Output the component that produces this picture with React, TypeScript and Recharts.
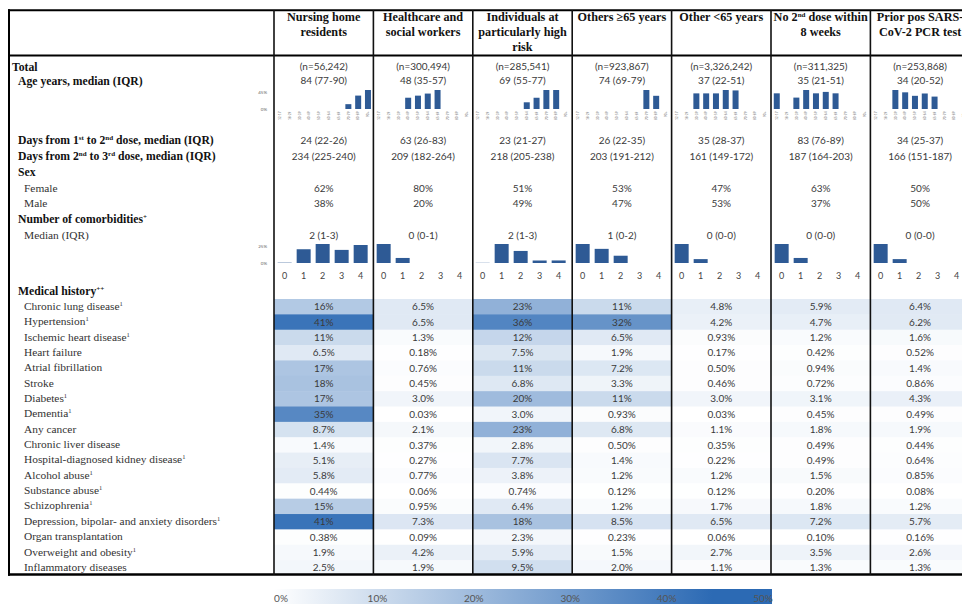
import React from "react";
import { BarChart, Bar, XAxis, YAxis, ScatterChart, Scatter } from "recharts";

const SERIF = "'Liberation Serif', 'DejaVu Serif', serif";
const SANS = "Lato, 'Open Sans', sans-serif";
const BAR_FILL = "#2e5a95";
const BLUE = [44, 106, 180];
const HEAT_MAX = 44;

const GROUPS = [
  ["Nursing home", "residents"],
  ["Healthcare and", "social workers"],
  ["Individuals at", "particularly high", "risk"],
  ["Others ≥65 years"],
  ["Other <65 years"],
  ["No 2{nd} dose within", "8 weeks"],
  ["Prior pos SARS-", "CoV-2 PCR test"],
];

const TOTALS = ["(n=56,242)", "(n=300,494)", "(n=285,541)", "(n=923,867)", "(n=3,326,242)", "(n=311,325)", "(n=253,868)"];
const AGE_MEDIAN = ["84 (77-90)", "48 (35-57)", "69 (55-77)", "74 (69-79)", "37 (22-51)", "35 (21-51)", "34 (20-52)"];
const DAYS_1_2 = ["24 (22-26)", "63 (26-83)", "23 (21-27)", "26 (22-35)", "35 (28-37)", "83 (76-89)", "34 (25-37)"];
const DAYS_2_3 = ["234 (225-240)", "209 (182-264)", "218 (205-238)", "203 (191-212)", "161 (149-172)", "187 (164-203)", "166 (151-187)"];
const FEMALE = [62, 80, 51, 53, 47, 63, 50];
const MALE = [38, 20, 49, 47, 53, 37, 50];
const COMORB_MEDIAN = ["2 (1-3)", "0 (0-1)", "2 (1-3)", "1 (0-2)", "0 (0-0)", "0 (0-0)", "0 (0-0)"];

// age distribution, % per age group
const AGE_GROUPS = ["12-17", "18-29", "30-39", "40-49", "50-59", "60-64", "65-69", "70-79", "80-89", "90+"];
const AGE_DIST = [
  [0, 0, 0, 0, 0, 0, 0, 13, 36, 51],
  [0, 0, 0, 19, 22.5, 26, 32, 0, 0, 0],
  [0, 0, 0, 0, 0, 12, 20, 34, 34, 0],
  [0, 0, 0, 0, 0, 0, 0, 59, 41, 0],
  [0, 0, 18.5, 18.5, 18.5, 22.5, 22, 0, 0, 0],
  [16.5, 0, 12, 20, 16.5, 18, 16.5, 0, 0, 0],
  [0, 0, 24.5, 21.5, 17, 20, 16, 0, 0, 0],
];
const AGE_TICKS = [0, 45];

// number of comorbidities, % per count
const COMORB_COUNTS = ["0", "1", "2", "3", "4"];
const COMORB_DIST = [
  [0.5, 21, 29, 20, 27.5],
  [79, 21, 0, 0, 0],
  [0.5, 52, 33, 7, 7],
  [47, 35, 18, 0, 0],
  [83, 17, 0, 0, 0],
  [79, 21, 0, 0, 0],
  [83, 17, 0, 0, 0],
];
const COMORB_TICKS = [0, 25];

const CONDITIONS = [
  "Chronic lung disease{1}",
  "Hypertension{1}",
  "Ischemic heart disease{1}",
  "Heart failure",
  "Atrial fibrillation",
  "Stroke",
  "Diabetes{1}",
  "Dementia{1}",
  "Any cancer",
  "Chronic liver disease",
  "Hospital-diagnosed kidney disease{1}",
  "Alcohol abuse{1}",
  "Substance abuse{1}",
  "Schizophrenia{1}",
  "Depression, bipolar- and anxiety disorders{1}",
  "Organ transplantation",
  "Overweight and obesity{1}",
  "Inflammatory diseases",
];
const NURSING = [16, 41, 11, 6.5, 17, 18, 17, 35, 8.7, 1.4, 5.1, 5.8, 0.44, 15, 41, 0.38, 1.9, 2.5];
const HCW = [6.5, 6.5, 1.3, 0.18, 0.76, 0.45, 3.0, 0.03, 2.1, 0.37, 0.27, 0.77, 0.06, 0.95, 7.3, 0.09, 4.2, 1.9];
const HIGH_RISK = [23, 36, 12, 7.5, 11, 6.8, 20, 3.0, 23, 2.8, 7.7, 3.8, 0.74, 6.4, 18, 2.3, 5.9, 9.5];
const OTHERS_65 = [11, 32, 6.5, 1.9, 7.2, 3.3, 11, 0.93, 6.8, 0.5, 1.4, 1.2, 0.12, 1.2, 8.5, 0.23, 1.5, 2.0];
const OTHER_U65 = [4.8, 4.2, 0.93, 0.17, 0.5, 0.46, 3.0, 0.03, 1.1, 0.35, 0.22, 1.2, 0.12, 1.7, 6.5, 0.06, 2.7, 1.1];
const NO_2ND = [5.9, 4.7, 1.2, 0.42, 0.94, 0.72, 3.1, 0.45, 1.8, 0.49, 0.49, 1.5, 0.2, 1.8, 7.2, 0.1, 3.5, 1.3];
const PRIOR_POS = [6.4, 6.2, 1.6, 0.52, 1.4, 0.86, 4.3, 0.49, 1.9, 0.44, 0.64, 0.85, 0.08, 1.2, 5.7, 0.16, 2.6, 1.3];
const HEAT_SERIES = [NURSING, HCW, HIGH_RISK, OTHERS_65, OTHER_U65, NO_2ND, PRIOR_POS];
const LEGEND_TICKS = [0, 10, 20, 30, 40, 50];

// layout
const COL0 = 274;
const COL_W = 99.4;
const colLeft = (i: number) => COL0 + i * COL_W;
const HEAT_TOP = 298.5;
const ROW_H = 15.36;
const HEAT_W = COL_W * 7;
const HEAT_H = ROW_H * CONDITIONS.length;
const AGE_PLOT_H = 19;

const fmtPct = (v: number) =>
  (v >= 10 ? v.toFixed(0) : v >= 1 ? v.toFixed(1) : v.toFixed(2)) + "%";

const heatColor = (v: number) => {
  const t = Math.min(v / HEAT_MAX, 1);
  const c = BLUE.map((b) => Math.round(255 + (b - 255) * t));
  return `rgb(${c[0]},${c[1]},${c[2]})`;
};

// "text{sup}" -> tspans with superscripts
function Rich({ s, sup = 7 }: { s: string; sup?: number }) {
  const parts = s.split(/(\{[^}]*\})/).filter(Boolean);
  let raised = false;
  return (
    <>
      {parts.map((p, k) => {
        if (p.startsWith("{")) {
          raised = true;
          return (
            <tspan key={k} dy={-4} fontSize={sup}>
              {p.slice(1, -1)}
            </tspan>
          );
        }
        const dy = raised ? 4 : undefined;
        raised = false;
        return (
          <tspan key={k} dy={dy}>
            {p}
          </tspan>
        );
      })}
    </>
  );
}

const HeatCell = (props: any) => {
  const { cx, cy, payload } = props;
  return (
    <g>
      <rect
        x={cx - COL_W / 2}
        y={cy - ROW_H / 2}
        width={COL_W + 0.5}
        height={ROW_H + 0.5}
        fill={heatColor(payload.v)}
      />
      <text x={cx} y={cy + 3.6} textAnchor="middle" fontFamily={SANS} fontSize={10} fill="#3a3a3a">
        {fmtPct(payload.v)}
      </text>
    </g>
  );
};

// tiny rotated age-group labels, just under the bars
const AgeTick = (props: any) => {
  const { x, payload } = props;
  const y = AGE_PLOT_H + 2.5;
  return (
    <text
      x={x}
      y={y}
      transform={`rotate(-90 ${x} ${y})`}
      textAnchor="end"
      fontFamily={SANS}
      fontSize={3.2}
      fill="#777"
      dy={1.1}
    >
      {payload.value}
    </text>
  );
};

function AgeChart({ i }: { i: number }) {
  const data = AGE_GROUPS.map((g, k) => ({ g, v: AGE_DIST[i][k] }));
  const yw = i === 0 ? 22 : 0;
  return (
    <div style={{ position: "absolute", left: colLeft(i) + 0.5 - yw, top: 89.5 }}>
      <BarChart width={98 + yw} height={AGE_PLOT_H + 15} data={data} barCategoryGap="18%" margin={{ top: 0, right: 0, bottom: 0, left: 0 }}>
        <XAxis dataKey="g" height={15} interval={0} tick={<AgeTick />} axisLine={false} tickLine={false} />
        <YAxis
          hide={i !== 0}
          width={yw}
          domain={[0, "dataMax"]}
          ticks={AGE_TICKS}
          tickFormatter={(v) => `${v}%`}
          tick={{ fontSize: 4.5, fill: "#666", fontFamily: SANS }}
          axisLine={false}
          tickLine={false}
        />
        <Bar dataKey="v" fill={BAR_FILL} isAnimationActive={false} />
      </BarChart>
    </div>
  );
}

function ComorbChart({ i }: { i: number }) {
  const data = COMORB_COUNTS.map((n, k) => ({ n, v: COMORB_DIST[i][k] }));
  const yw = i === 0 ? 22 : 0;
  return (
    <div style={{ position: "absolute", left: colLeft(i) + 0.5 - yw, top: 244 }}>
      <BarChart width={95 + yw} height={39} data={data} barCategoryGap="14%" margin={{ top: 0, right: 0, bottom: 0, left: 0 }}>
        <XAxis
          dataKey="n"
          height={20}
          interval={0}
          tickSize={8}
          tick={{ fontSize: 9, fill: "#444", fontFamily: SANS }}
          axisLine={false}
          tickLine={false}
        />
        <YAxis
          hide={i !== 0}
          width={yw}
          domain={[0, "dataMax"]}
          ticks={COMORB_TICKS}
          tickFormatter={(v) => `${v}%`}
          tick={{ fontSize: 4.5, fill: "#666", fontFamily: SANS }}
          axisLine={false}
          tickLine={false}
        />
        <Bar dataKey="v" fill={BAR_FILL} isAnimationActive={false} />
      </BarChart>
    </div>
  );
}

const TOP_LABELS = [
  { t: "Total", y: 67, x: 12, b: true },
  { t: "Age years, median (IQR)", y: 81, x: 18, b: true },
  { t: "Days from 1{st} to 2{nd} dose, median (IQR)", y: 140, x: 18, b: true },
  { t: "Days from 2{nd} to 3{rd} dose, median (IQR)", y: 156, x: 18, b: true },
  { t: "Sex", y: 172, x: 18, b: true },
  { t: "Female", y: 188, x: 24, b: false },
  { t: "Male", y: 203, x: 24, b: false },
  { t: "Number of comorbidities{+}", y: 219, x: 18, b: true },
  { t: "Median (IQR)", y: 235, x: 24, b: false },
  { t: "Medical history{++}", y: 291, x: 18, b: true },
];

const VALUE_ROWS: { vals: string[]; y: number }[] = [
  { vals: TOTALS, y: 66.5 },
  { vals: AGE_MEDIAN, y: 80.5 },
  { vals: DAYS_1_2, y: 140 },
  { vals: DAYS_2_3, y: 156 },
  { vals: FEMALE.map((v) => `${v}%`), y: 188 },
  { vals: MALE.map((v) => `${v}%`), y: 203 },
  { vals: COMORB_MEDIAN, y: 235 },
];

export default function App() {
  const heatPoints = HEAT_SERIES.flatMap((vals, c) => vals.map((v, r) => ({ x: c, y: r, v })));
  const legendStop = (HEAT_MAX / 50) * 100;
  return (
    <div style={{ position: "fixed", left: 0, top: 0, width: 962, height: 604, overflow: "hidden", background: "#fff" }}>
      <div style={{ position: "absolute", left: COL0, top: HEAT_TOP }}>
        <ScatterChart width={HEAT_W} height={HEAT_H} margin={{ top: 0, right: 0, bottom: 0, left: 0 }}>
          <XAxis type="number" dataKey="x" domain={[-0.5, 6.5]} ticks={[0, 1, 2, 3, 4, 5, 6]} allowDataOverflow hide />
          <YAxis
            type="number"
            dataKey="y"
            domain={[-0.5, CONDITIONS.length - 0.5]}
            ticks={CONDITIONS.map((_, r) => r)}
            allowDataOverflow
            reversed
            hide
            width={0}
          />
          <Scatter data={heatPoints} shape={HeatCell} isAnimationActive={false} />
        </ScatterChart>
      </div>

      {GROUPS.map((_, i) => (
        <AgeChart key={`a${i}`} i={i} />
      ))}
      {GROUPS.map((_, i) => (
        <ComorbChart key={`c${i}`} i={i} />
      ))}

      {/* legend */}
      <div
        style={{
          position: "absolute",
          left: COL0,
          top: 589,
          width: 498,
          height: 15,
          background: `linear-gradient(to right, #fff 0%, ${heatColor(HEAT_MAX)} ${legendStop}%, ${heatColor(HEAT_MAX)} 100%)`,
        }}
      />

      <svg width={962} height={604} style={{ position: "absolute", left: 0, top: 0, pointerEvents: "none" }}>
        {/* header */}
        {GROUPS.map((lines, i) =>
          lines.map((ln, k) => (
            <text
              key={`h${i}-${k}`}
              x={colLeft(i) + COL_W / 2}
              y={20.5 + k * 15}
              textAnchor="middle"
              fontFamily={SERIF}
              fontWeight="bold"
              fontSize={12.2}
              fill="#111"
            >
              <Rich s={ln} />
            </text>
          ))
        )}

        {/* row labels */}
        {TOP_LABELS.map((l) => (
          <text
            key={l.t}
            x={l.x}
            y={l.y + 3.6}
            fontFamily={SERIF}
            fontWeight={l.b ? "bold" : "normal"}
            fontSize={l.b ? 11.7 : 11.4}
            fill={l.b ? "#111" : "#333"}
          >
            <Rich s={l.t} />
          </text>
        ))}
        {CONDITIONS.map((c, r) => (
          <text key={c} x={24} y={HEAT_TOP + (r + 0.5) * ROW_H + 3.6} fontFamily={SERIF} fontSize={11.4} fill="#333">
            <Rich s={c} sup={6.5} />
          </text>
        ))}

        {/* column values */}
        {VALUE_ROWS.map((row, ri) =>
          row.vals.map((v, i) => (
            <text
              key={`v${ri}-${i}`}
              x={colLeft(i) + COL_W / 2}
              y={row.y + 3.6}
              textAnchor="middle"
              fontFamily={SANS}
              fontSize={10}
              fill="#3a3a3a"
            >
              {v}
            </text>
          ))
        )}

        {/* legend labels */}
        {LEGEND_TICKS.map((t, k) => (
          <text key={t} x={281 + k * 96.4} y={601.5} textAnchor="middle" fontFamily={SANS} fontSize={10} fill="#555">
            {t}%
          </text>
        ))}

        {/* table rules */}
        <line x1={8} x2={962} y1={10.2} y2={10.2} stroke="#000" strokeWidth={2} />
        <line x1={8} x2={962} y1={55.5} y2={55.5} stroke="#000" strokeWidth={2} />
        <line x1={8} x2={962} y1={574.5} y2={574.5} stroke="#000" strokeWidth={2.5} />
        <line x1={9} x2={9} y1={9.2} y2={575.7} stroke="#000" strokeWidth={2} />
        {GROUPS.map((_, i) => (
          <line key={`vl${i}`} x1={colLeft(i)} x2={colLeft(i)} y1={10} y2={575} stroke="#111" strokeWidth={1.6} />
        ))}
      </svg>
    </div>
  );
}
